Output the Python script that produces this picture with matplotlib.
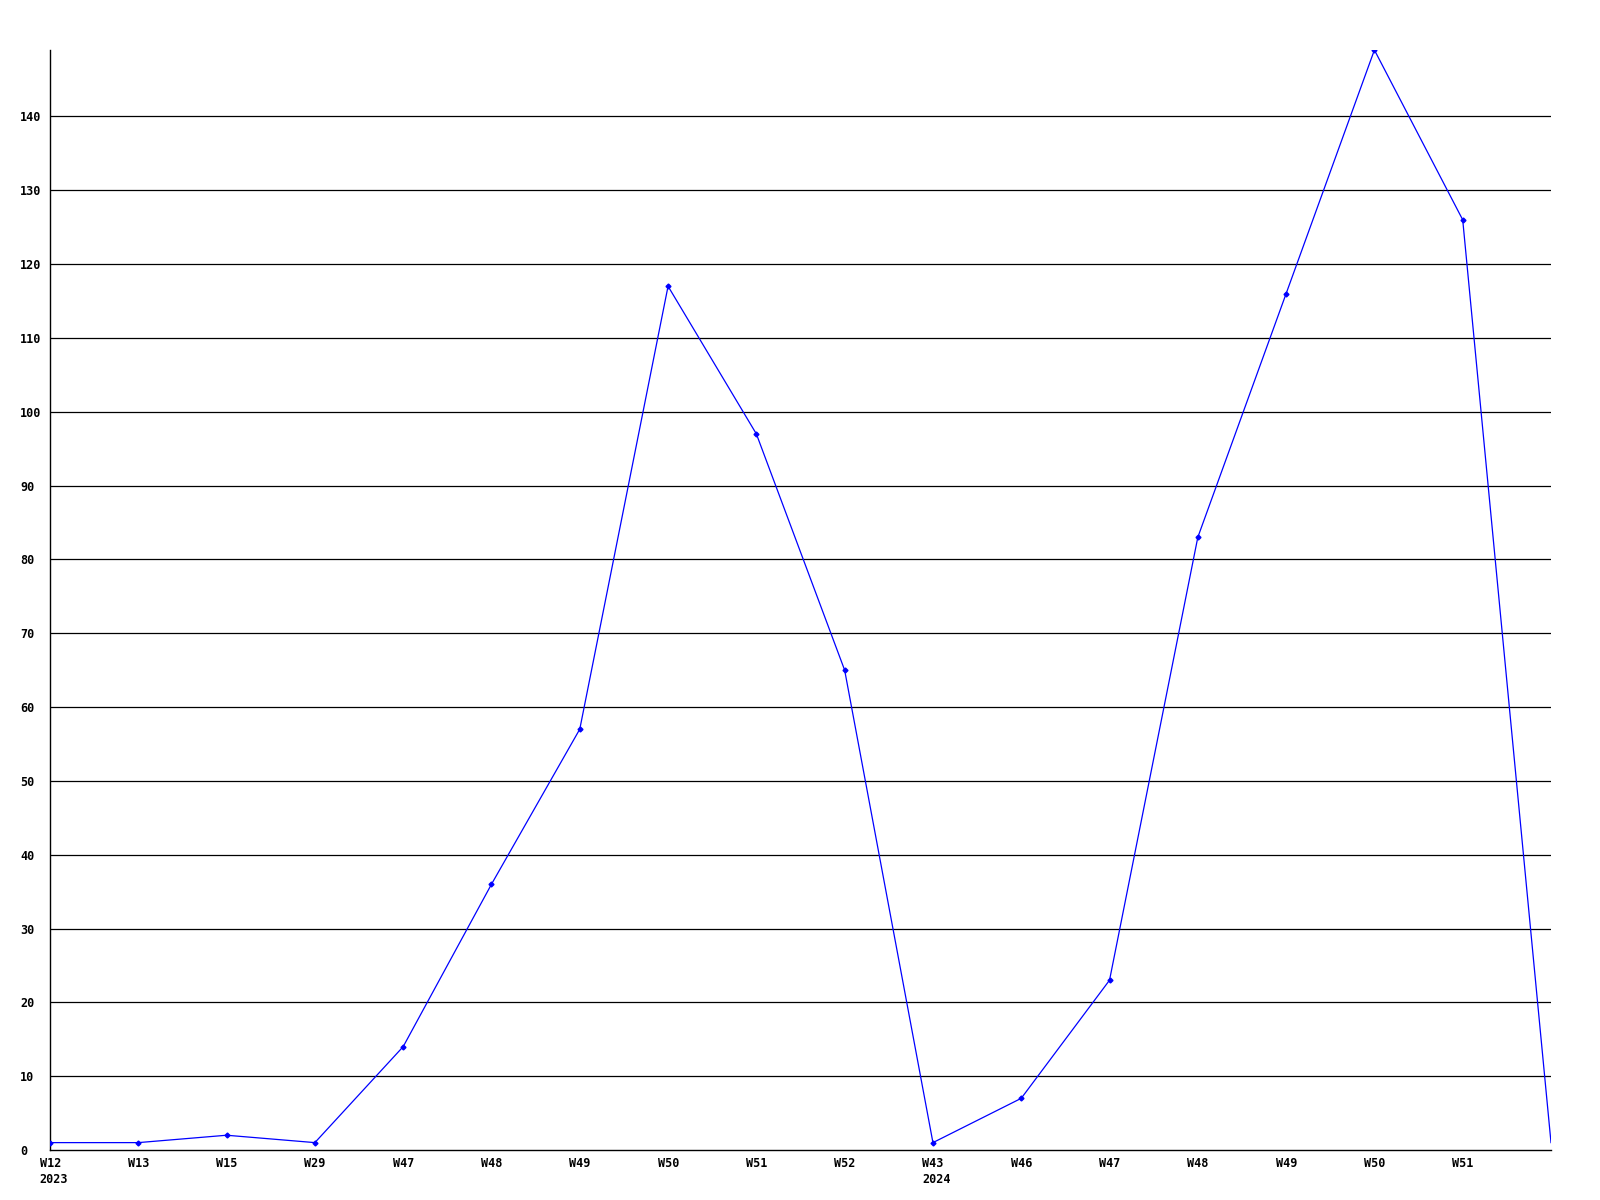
import numpy as np
import matplotlib
matplotlib.use("Agg")
import matplotlib.pyplot as plt
from matplotlib.transforms import ScaledTranslation

# weekly counts
weeks = ["W12", "W13", "W15", "W29", "W47", "W48", "W49", "W50", "W51", "W52",
         "W43", "W46", "W47", "W48", "W49", "W50", "W51", ""]
years = ["2023", "", "", "", "", "", "", "", "", "",
         "2024", "", "", "", "", "", "", ""]
counts = [1, 1, 2, 1, 14, 36, 57, 117, 97, 65, 1, 7, 23, 83, 116, 149, 126, 1]

x = np.arange(len(counts))

fig = plt.figure(figsize=(16, 12), dpi=100)
ax = fig.add_axes([50/1600, 50/1200, 1501/1600, 1100/1200])

for v in range(10, 150, 10):
    ax.axhline(v, color="black", lw=0.9, zorder=1)

ax.plot(x, counts, color="#0000ff", lw=0.9, zorder=3)
ax.plot(x[:-1], counts[:-1], ls="none", marker="D", ms=2.5, color="#0000ff", zorder=4)

ax.set_xlim(0, len(counts) - 1)
ax.set_ylim(0, max(counts))

labels = [w + ("\n" + y if y else "") for w, y in zip(weeks, years)]
ax.set_xticks(x[:-1])
ax.set_xticklabels(labels[:-1], ha="left", va="top", linespacing=1.3,
                   multialignment="left")
ax.set_yticks(range(0, 150, 10))

ax.tick_params(axis="both", length=0)
ax.tick_params(axis="x", pad=5)
ax.tick_params(axis="y", pad=21.6)

# labels start a bit left of their tick, y labels are left aligned
shift = ScaledTranslation(-10.5 / 100, 0, fig.dpi_scale_trans)
for lab in ax.get_xticklabels():
    lab.set_transform(lab.get_transform() + shift)
for lab in ax.get_yticklabels():
    lab.set_horizontalalignment("left")

for lab in ax.get_xticklabels() + ax.get_yticklabels():
    lab.set_family("DejaVu Sans Mono")
    lab.set_fontweight("bold")
    lab.set_fontsize(8.5)

for s in ["top", "right"]:
    ax.spines[s].set_visible(False)
for s in ["left", "bottom"]:
    ax.spines[s].set_linewidth(1.0)
    ax.spines[s].set_color("black")

fig.savefig("out.png", dpi=100, facecolor="white")
